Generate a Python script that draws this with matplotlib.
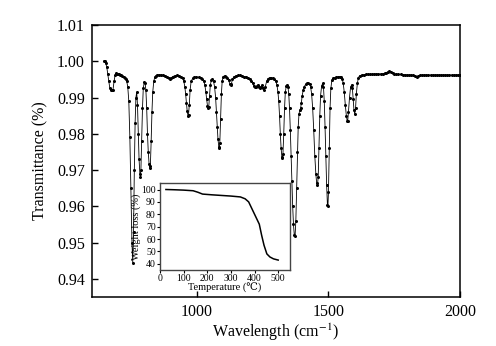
import matplotlib
matplotlib.use("Agg")
import matplotlib.pyplot as plt

plt.rcParams['font.family'] = ['Liberation Serif', 'DejaVu Serif', 'DejaVu Sans']
plt.rcParams['mathtext.fontset'] = 'stix'

# FTIR spectrum: wavenumber (cm^-1) and transmittance
wavenumber = [
    645, 649, 653, 657, 661, 665, 669, 673, 677, 681, 685, 689, 693, 697, 701, 705,
    709, 713, 717, 721, 725, 729, 733, 737, 741, 745, 749, 753, 756, 759, 762, 765,
    768, 771, 774, 777, 780, 783, 785, 787, 790, 793, 796, 800, 803, 806, 809, 812,
    815, 818, 821, 823, 826, 829, 832, 836, 840, 844, 848, 856, 864, 872, 880, 888,
    894, 898, 902, 908, 916, 924, 932, 940, 946, 950, 954, 957, 960, 963, 966, 968,
    971, 974, 978, 984, 990, 998, 1006, 1014, 1020, 1026, 1030, 1034, 1037, 1040, 1043, 1045,
    1048, 1051, 1055, 1059, 1063, 1067, 1071, 1074, 1077, 1080, 1083, 1085, 1087, 1090, 1093, 1096,
    1100, 1105, 1110, 1115, 1120, 1125, 1128, 1131, 1135, 1140, 1148, 1156, 1164, 1172, 1180, 1188,
    1196, 1202, 1207, 1212, 1216, 1220, 1224, 1228, 1232, 1236, 1240, 1244, 1248, 1252, 1256, 1260,
    1265, 1270, 1276, 1282, 1288, 1294, 1300, 1304, 1308, 1311, 1314, 1317, 1320, 1323, 1325, 1327,
    1330, 1333, 1336, 1340, 1343, 1346, 1349, 1352, 1355, 1358, 1361, 1364, 1367, 1370, 1373, 1376,
    1379, 1382, 1385, 1388, 1391, 1394, 1397, 1400, 1404, 1408, 1413, 1418, 1423, 1428, 1432, 1436,
    1440, 1444, 1448, 1452, 1455, 1458, 1461, 1464, 1467, 1470, 1474, 1478, 1481, 1484, 1487, 1490,
    1493, 1496, 1498, 1500, 1503, 1506, 1509, 1513, 1518, 1524, 1530, 1536, 1542, 1548, 1552, 1556,
    1560, 1564, 1568, 1571, 1573, 1576, 1580, 1584, 1588, 1591, 1594, 1597, 1600, 1603, 1606, 1610,
    1614, 1618, 1626, 1634, 1642, 1650, 1658, 1666, 1674, 1682, 1690, 1698, 1706, 1714, 1720, 1726,
    1732, 1738, 1744, 1750, 1758, 1766, 1774, 1782, 1790, 1798, 1806, 1814, 1822, 1830, 1836, 1842,
    1848, 1856, 1864, 1872, 1880, 1888, 1896, 1904, 1912, 1920, 1928, 1936, 1944, 1952, 1960, 1968,
    1976, 1984, 1992, 2000,
]
transmittance = [
    1.0000, 1.0002, 0.9995, 0.9985, 0.9965, 0.9945, 0.9925, 0.9920, 0.9920, 0.9922, 0.9945, 0.9962, 0.9967, 0.9966, 0.9965, 0.9964,
    0.9963, 0.9962, 0.9960, 0.9958, 0.9955, 0.9952, 0.9945, 0.9930, 0.9890, 0.9790, 0.9650, 0.9500, 0.9444, 0.9530, 0.9700, 0.9830,
    0.9900, 0.9915, 0.9880, 0.9800, 0.9730, 0.9690, 0.9682, 0.9700, 0.9780, 0.9870, 0.9925, 0.9944, 0.9940, 0.9920, 0.9870, 0.9800,
    0.9750, 0.9718, 0.9705, 0.9712, 0.9780, 0.9860, 0.9915, 0.9945, 0.9957, 0.9960, 0.9962, 0.9963, 0.9962, 0.9961, 0.9960, 0.9958,
    0.9953, 0.9950, 0.9954, 0.9958, 0.9960, 0.9961, 0.9960, 0.9958, 0.9953, 0.9945, 0.9930, 0.9910, 0.9885, 0.9862, 0.9850, 0.9852,
    0.9880, 0.9920, 0.9945, 0.9953, 0.9956, 0.9957, 0.9956, 0.9955, 0.9952, 0.9945, 0.9935, 0.9915, 0.9895, 0.9878, 0.9871, 0.9875,
    0.9905, 0.9935, 0.9948, 0.9950, 0.9945, 0.9930, 0.9900, 0.9860, 0.9820, 0.9785, 0.9765, 0.9760, 0.9775, 0.9840, 0.9910, 0.9945,
    0.9958, 0.9960, 0.9958, 0.9955, 0.9948, 0.9938, 0.9934, 0.9938, 0.9950, 0.9957, 0.9960, 0.9961, 0.9961, 0.9960, 0.9958, 0.9957,
    0.9955, 0.9950, 0.9945, 0.9940, 0.9932, 0.9930, 0.9928, 0.9932, 0.9935, 0.9930, 0.9926, 0.9930, 0.9935, 0.9925, 0.9922, 0.9930,
    0.9945, 0.9952, 0.9955, 0.9955, 0.9953, 0.9950, 0.9945, 0.9935, 0.9915, 0.9890, 0.9850, 0.9800, 0.9760, 0.9735, 0.9733, 0.9745,
    0.9800, 0.9870, 0.9915, 0.9933, 0.9935, 0.9930, 0.9910, 0.9870, 0.9810, 0.9740, 0.9670, 0.9600, 0.9550, 0.9522, 0.9517, 0.9560,
    0.9650, 0.9750, 0.9820, 0.9855, 0.9865, 0.9870, 0.9885, 0.9905, 0.9920, 0.9930, 0.9936, 0.9939, 0.9939, 0.9938, 0.9930, 0.9910,
    0.9870, 0.9810, 0.9740, 0.9690, 0.9665, 0.9659, 0.9680, 0.9760, 0.9850, 0.9905, 0.9932, 0.9939, 0.9930, 0.9890, 0.9820, 0.9740,
    0.9660, 0.9605, 0.9601, 0.9640, 0.9760, 0.9870, 0.9925, 0.9948, 0.9953, 0.9955, 0.9956, 0.9957, 0.9958, 0.9957, 0.9952, 0.9940,
    0.9915, 0.9880, 0.9850, 0.9836, 0.9834, 0.9860, 0.9900, 0.9928, 0.9935, 0.9925, 0.9895, 0.9865, 0.9855, 0.9870, 0.9910, 0.9940,
    0.9955, 0.9960, 0.9962, 0.9963, 0.9964, 0.9964, 0.9964, 0.9964, 0.9965, 0.9965, 0.9965, 0.9965, 0.9966, 0.9967, 0.9969, 0.9971,
    0.9972, 0.9971, 0.9968, 0.9965, 0.9964, 0.9964, 0.9964, 0.9963, 0.9963, 0.9962, 0.9962, 0.9962, 0.9961, 0.9959, 0.9958, 0.9959,
    0.9961, 0.9962, 0.9962, 0.9962, 0.9962, 0.9962, 0.9962, 0.9962, 0.9962, 0.9962, 0.9962, 0.9962, 0.9962, 0.9962, 0.9962, 0.9962,
    0.9962, 0.9962, 0.9962, 0.9962,
]

# Thermogravimetric curve for the inset
tga_temperature = [25, 60, 100, 140, 160, 180, 220, 260, 300, 340, 360, 375, 390, 405,
                   420, 430, 440, 452, 465, 480, 500]
tga_weight = [100, 99.8, 99.5, 99.0, 97.8, 96.3, 95.7, 95.2, 94.7, 94.0, 92.5, 90, 84, 78,
              72, 63, 55, 48, 45.5, 44, 43]

main_yticks = [0.94, 0.95, 0.96, 0.97, 0.98, 0.99, 1.00, 1.01]
main_xticks = [1000, 1500, 2000]
inset_xticks = [0, 100, 200, 300, 400, 500]
inset_yticks = [40, 50, 60, 70, 80, 90, 100]

fig = plt.figure(figsize=(4.96, 3.46), dpi=100)
ax = fig.add_axes([0.1849, 0.1416, 0.7425, 0.7861])

ax.plot(wavenumber, transmittance, color='black', lw=0.6,
        marker='o', markersize=2.2, markeredgewidth=0)

ax.set_xlim(600, 2000)
ax.set_ylim(0.935, 1.01)
ax.set_xticks(main_xticks)
ax.set_yticks(main_yticks)
ax.set_yticklabels([f"{v:.2f}" for v in main_yticks])
ax.tick_params(direction='in', length=4, width=1, labelsize=11.5, pad=5)
for s in ax.spines.values():
    s.set_linewidth(1.1)
ax.set_xlabel(r'Wavelength (cm$^{-1}$)', fontsize=11.5, labelpad=1)
ax.set_ylabel('Transmittance (%)', fontsize=11.5, labelpad=6)

# Inset: thermogravimetric analysis
ins = fig.add_axes([0.3226, 0.2197, 0.2621, 0.2505])
ins.set_facecolor('white')
ins.plot(tga_temperature, tga_weight, color='black', lw=1.1)
ins.set_xlim(0, 550)
ins.set_ylim(35, 105)
ins.set_xticks(inset_xticks)
ins.set_yticks(inset_yticks)
ins.tick_params(direction='out', length=2, width=0.8, labelsize=7, pad=1)
for s in ins.spines.values():
    s.set_linewidth(1.0)
    s.set_color('#444444')
ins.set_xlabel('Temperature (℃)', fontsize=7.5, labelpad=0)
ins.set_ylabel('Weight loss (%)', fontsize=7.5, labelpad=0.5)

fig.savefig('out.png', dpi=100)
